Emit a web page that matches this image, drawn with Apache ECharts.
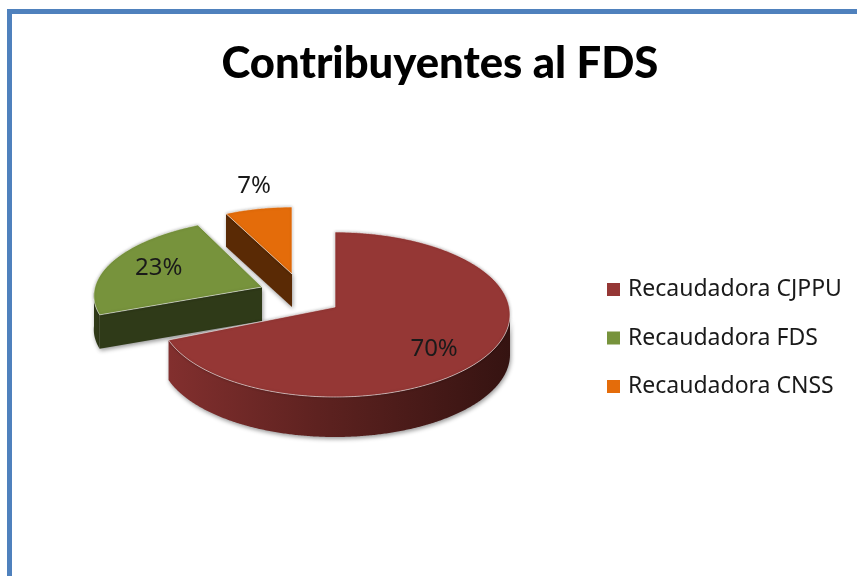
<!DOCTYPE html>
<html>
<head>
<meta charset="utf-8">
<style>html,body{margin:0;padding:0;background:#fff}#c{width:857px;height:576px}</style>
<script src="https://cdn.jsdelivr.net/npm/echarts@6/dist/echarts.min.js"></script>
</head>
<body>
<div id="c"></div>
<script>
var titleText = 'Contribuyentes al FDS';
var categories = ['Recaudadora CJPPU', 'Recaudadora FDS', 'Recaudadora CNSS'];
var values = [70, 23, 7];

var topColors = ['#953735', '#77933c', '#e46c0a'];
var wallColors = [
  [[0, '#84302f'], [0.45, '#5e2220'], [1, '#351311']],
  [[0, '#2f3a18'], [1, '#2f3a18']],
  [[0, '#5a2a05'], [1, '#5a2a05']]
];
// Projection of each exploded slice: ellipse centre and radii, apex shift, shear, thickness, z order
var frames = [
  {cx: 335, cy: 314.5, rx: 175, ry: 82.5, apex: -7.5, shear: 0, depth: 40, z: 3, lx: 0.7, ly: 0.72},
  {cx: 262, cy: 292, rx: 168, ry: 74, apex: -5, shear: -0.11, depth: 34, z: 2, lx: 0.67, ly: 0.8},
  {cx: 292, cy: 277, rx: 155, ry: 70, apex: -3, shear: 0, depth: 33, z: 1, lx: 1.12, ly: 1.33}
];

var total = values.reduce(function (a, b) { return a + b; }, 0);
var shadow = {shadowBlur: 4, shadowColor: 'rgba(0,0,0,0.4)', shadowOffsetX: 1, shadowOffsetY: 2};
var edge = 'rgba(255,255,255,0.55)';

function sliceRenderer(i) {
  return function (params, api) {
    var f = frames[i];
    var before = values.slice(0, i).reduce(function (a, b) { return a + b; }, 0);
    var v = api.value(0);
    var a0 = before / total * 360, a1 = (before + v) / total * 360;
    function pt(deg, drop) {
      var r = deg * Math.PI / 180;
      var ry = -f.ry * Math.cos(r);
      return [f.cx + f.rx * Math.sin(r) + f.shear * ry, f.cy + ry + (drop || 0)];
    }
    function arc(from, to, drop) {
      var out = [], n = Math.max(2, Math.ceil(Math.abs(to - from) * 2));
      for (var k = 0; k <= n; k++) out.push(pt(from + (to - from) * k / n, drop));
      return out;
    }
    var apex = [f.cx, f.cy + f.apex];
    var mid = (a0 + a1) / 2, midR = mid * Math.PI / 180;
    var inner = [f.cx + 0.6 * f.rx * Math.sin(midR), f.cy - 0.6 * f.ry * Math.cos(midR)];
    var children = [];
    var fill = new echarts.graphic.LinearGradient(f.cx - f.rx, 0, f.cx + f.rx, 0, wallColors[i].map(function (s) {
      return {offset: s[0], color: s[1]};
    }), true);

    // outer wall: the part of the rim that faces the viewer (90deg to 270deg)
    var w0 = Math.max(a0, 90), w1 = Math.min(a1, 270);
    if (w1 > w0) {
      children.push({type: 'polygon', shape: {points: arc(w0, w1, 0).concat(arc(w1, w0, f.depth))},
        style: Object.assign({fill: fill}, shadow)});
    }
    // radial cut faces visible when the slice interior lies above the edge
    [a0, a1].forEach(function (a) {
      var p = pt(a), dx = p[0] - apex[0];
      if (Math.abs(dx) < 3) return;
      var lineY = apex[1] + (p[1] - apex[1]) * (inner[0] - apex[0]) / dx;
      if (inner[1] < lineY) {
        children.push({type: 'polygon', shape: {points: [apex, p, [p[0], p[1] + f.depth], [apex[0], apex[1] + f.depth]]},
          style: Object.assign({fill: fill}, shadow)});
      }
    });
    // top face
    children.push({type: 'polygon', shape: {points: [apex].concat(arc(a0, a1, 0))},
      style: {fill: topColors[i], stroke: edge, lineWidth: 1, shadowBlur: 3, shadowColor: 'rgba(0,0,0,0.3)'}});
    // percent label
    children.push({type: 'text', style: {
      text: v + '%',
      x: f.cx + f.lx * f.rx * Math.sin(midR),
      y: f.cy - f.ly * f.ry * Math.cos(midR),
      fill: '#1a1a1a', align: 'center', verticalAlign: 'middle',
      fontFamily: 'Noto Sans', fontSize: 24
    }});
    return {type: 'group', children: children};
  };
}

var chart = echarts.init(document.getElementById('c'), null, {renderer: 'canvas'});
chart.setOption({
  animation: false,
  backgroundColor: '#ffffff',
  title: {
    text: titleText, left: 435, top: 37, textAlign: 'center',
    textStyle: {fontFamily: 'Lato', fontWeight: 900, fontSize: 43.6, color: '#000000'}
  },
  legend: {
    orient: 'vertical', left: 602, top: 273, icon: 'rect', itemWidth: 13, itemHeight: 13, itemGap: 25.5,
    data: categories,
    textStyle: {fontFamily: 'Noto Sans', fontSize: 23, color: '#1a1a1a', padding: [0, 0, 0, 3]}
  },
  graphic: [{
    type: 'rect', silent: true, z: 10,
    shape: {x: 9.5, y: 11.5, width: 1000, height: 800},
    style: {fill: 'none', stroke: '#4f81bd', lineWidth: 5}
  }],
  series: categories.map(function (name, i) {
    return {
      type: 'custom', name: name, coordinateSystem: 'none', z: frames[i].z,
      itemStyle: {color: topColors[i]},
      data: [[values[i]]],
      renderItem: sliceRenderer(i)
    };
  })
});
</script>
</body>
</html>
